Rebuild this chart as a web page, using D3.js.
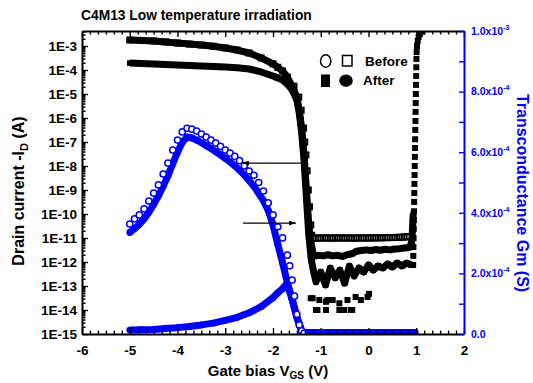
<!DOCTYPE html>
<html><head><meta charset="utf-8">
<script src="https://cdn.jsdelivr.net/npm/d3@7"></script>
<style>
body{margin:0;background:#fff}
text{font-family:"Liberation Sans",Arial,sans-serif;font-weight:bold}
</style>
</head><body>
<svg id="c" width="533" height="383"></svg>
<script>
// ---------- ticks ----------
const xTicks=[-6,-5,-4,-3,-2,-1,0,1,2];
const xTickLabels=["-6","-5","-4","-3","-2","-1","0","1","2"];
const yLeftTicks=[1e-15,1e-14,1e-13,1e-12,1e-11,1e-10,1e-9,1e-8,1e-7,1e-6,1e-5,1e-4,1e-3];
const yLeftTickLabels=["1E-15","1E-14","1E-13","1E-12","1E-11","1E-10","1E-9","1E-8","1E-7","1E-6","1E-5","1E-4","1E-3"];
const yRightTicks=[0,2e-4,4e-4,6e-4,8e-4,1e-3];
const yRightMant=["0.0","2.0","4.0","6.0","8.0","1.0"];
const yRightExp=["","-4","-4","-4","-4","-3"];

// ---------- drain current, after (filled squares), high branch ----------
const idHighV=[-5,-4.75,-4.5,-4.25,-4,-3.75,-3.5,-3.25,-3,-2.75,-2.5,-2.25,-2,-1.9,-1.8,-1.7,-1.6,-1.5,-1.45,-1.4,-1.35,-1.3,-1.25,-1.22,
 -1.15,-1.05,-0.95,-0.85,-0.75,-0.65,-0.55,-0.45,-0.35,-0.25,-0.15,-0.05,0.05,0.15,0.25,0.35,0.45,0.55,0.65,0.75,0.85,0.9,0.92,0.935];
const idHigh=[1.78e-3,1.70e-3,1.62e-3,1.48e-3,1.33e-3,1.20e-3,1.10e-3,9.8e-4,8.3e-4,6.8e-4,5.1e-4,3.2e-4,1.8e-4,1.3e-4,9.1e-5,5.1e-5,2.1e-5,7.4e-6,2.1e-6,3.8e-7,2.9e-8,1.0e-9,3.5e-11,1.0e-11,
 1.7e-12,1.9e-12,1.8e-12,2.0e-12,1.8e-12,1.9e-12,1.7e-12,2.0e-12,2.2e-12,2.8e-12,3.0e-12,3.2e-12,3.0e-12,3.3e-12,3.1e-12,3.4e-12,3.2e-12,3.5e-12,3.6e-12,3.8e-12,4.0e-12,6.0e-12,2.0e-11,1.0e-10];

// ---------- drain current, after (filled squares), low branch ----------
const idLowV=[-5,-4.75,-4.5,-4.25,-4,-3.75,-3.5,-3.25,-3,-2.75,-2.5,-2.25,-2,-1.9,-1.8,-1.7,-1.6,-1.5,-1.45,-1.4,-1.35,-1.3,-1.25,-1.2,-1.15,
 -1.1,-1.0,-0.9,-0.8,-0.7,-0.6,-0.5,-0.4,-0.3,-0.2,-0.1,0,0.1,0.2,0.3,0.4,0.5,0.6,0.7,0.8,0.9];
const idLow=[1.95e-4,1.86e-4,1.78e-4,1.70e-4,1.62e-4,1.55e-4,1.48e-4,1.41e-4,1.33e-4,1.23e-4,1.10e-4,8.3e-5,5.6e-5,4.7e-5,3.8e-5,2.6e-5,1.5e-5,5.6e-6,1.6e-6,2.6e-7,1.8e-8,4.7e-10,1.3e-11,1.3e-12,4.0e-13,
 1.5e-13,3.8e-13,1.1e-13,5.6e-13,2.2e-13,4.6e-13,1.3e-13,6.8e-13,2.6e-13,5.6e-13,3.8e-13,7.5e-13,4.6e-13,6.8e-13,5.6e-13,8.3e-13,6.2e-13,9.1e-13,6.8e-13,9.1e-13,7.5e-13];

// ---------- drain current, after, turn-on rise (filled squares) ----------
const riseV=[0.935,0.938,0.941,0.944,0.947,0.95,0.953,0.956,0.959,0.962,0.965,0.968,0.971,0.974,0.977,0.98,0.983,0.986,0.989,0.992,0.995,0.998,1.001,1.004,1.008,1.015,1.03,1.05,1.08,1.12,1.16];
const rise=[7.5e-13,1.8e-12,4.2e-12,1.0e-11,2.4e-11,5.6e-11,1.3e-10,3.2e-10,7.5e-10,1.8e-9,4.2e-9,1.0e-8,2.4e-8,5.6e-8,1.3e-7,3.2e-7,7.5e-7,1.8e-6,4.2e-6,1.0e-5,2.4e-5,5.6e-5,1.3e-4,2.9e-4,5.6e-4,1.0e-3,1.6e-3,2.4e-3,3.2e-3,4.0e-3,5.1e-3];

// ---------- drain current, after, off-state scatter (filled squares) ----------
const scatV=[-1.21,-1.17,-1.10,-1.07,-1.03,-0.89,-0.89,-0.86,-0.75,-0.61,-0.61,-0.51,-0.44,-0.37,-0.34,-0.27,-0.16,-0.02,0.01];
const scat=[3.1e-14,3.1e-14,1.0e-14,1.0e-14,2.6e-14,2.2e-14,1.0e-14,2.6e-14,2.6e-14,1.9e-14,1.0e-14,1.0e-14,2.6e-14,1.0e-14,1.0e-14,3.5e-14,2.6e-14,3.5e-14,4.7e-14];

// ---------- drain current, before (open squares) ----------
const idBeforeV=[-5,-4.75,-4.5,-4.25,-4,-3.75,-3.5,-3.25,-3,-2.75,-2.5,-2.25,-2,-1.9,-1.8,-1.7,-1.6,
 -1.56,-1.46,-1.41,-1.36,-1.335,-1.31,-1.285,-1.26,-1.235,-1.21,-1.19,-1.17,
 -1.15,-1.1,-1.05,-1.0,-0.95,-0.9,-0.85,-0.8,-0.75,-0.7,-0.65,-0.6,-0.55,-0.5,-0.45,-0.4,-0.35,-0.3,-0.25,-0.2,-0.15,-0.1,-0.05,0,
 0.05,0.1,0.15,0.2,0.25,0.3,0.35,0.4,0.45,0.5,0.55,0.6,0.65,0.7,0.75,0.8,0.85];
const idBefore=[1.78e-3,1.70e-3,1.62e-3,1.48e-3,1.33e-3,1.20e-3,1.10e-3,9.8e-4,8.3e-4,6.8e-4,5.1e-4,3.2e-4,1.8e-4,1.3e-4,9.1e-5,5.1e-5,2.1e-5,
 2.1e-5,7.4e-6,2.1e-6,3.8e-7,1.0e-7,2.9e-8,6.3e-9,1.0e-9,2.0e-10,3.5e-11,1.3e-11,1.0e-11,
 1.0e-11,9.8e-12,1.01e-11,9.9e-12,1.0e-11,1.02e-11,9.8e-12,1.0e-11,9.9e-12,1.01e-11,1.0e-11,9.9e-12,1.02e-11,1.0e-11,9.9e-12,1.01e-11,1.0e-11,9.8e-12,1.0e-11,1.01e-11,9.9e-12,1.0e-11,1.02e-11,1.0e-11,
 1.01e-11,1.0e-11,1.02e-11,1.01e-11,1.03e-11,1.02e-11,1.04e-11,1.03e-11,1.05e-11,1.04e-11,1.06e-11,1.05e-11,1.07e-11,1.08e-11,1.1e-11,1.12e-11,1.15e-11];

// ---------- transconductance, before (open circles) ----------
const gmBeforeV=[-5,-4.9,-4.8,-4.7,-4.6,-4.5,-4.4,-4.3,-4.2,-4.1,-4.0,-3.9,-3.8,-3.7,-3.6,-3.5,-3.4,-3.3,-3.2,-3.1,-3.0,-2.9,-2.8,-2.7,-2.6,-2.5,-2.4,-2.3,-2.2,-2.1,-2.0,-1.9,-1.8,-1.7,-1.65,-1.6,-1.55,-1.5,-1.45,-1.4,-1.35];
const gmBefore=[3.63e-4,3.80e-4,3.93e-4,4.13e-4,4.39e-4,4.65e-4,4.92e-4,5.28e-4,5.64e-4,6.07e-4,6.40e-4,6.67e-4,6.79e-4,6.76e-4,6.70e-4,6.60e-4,6.50e-4,6.40e-4,6.30e-4,6.19e-4,6.07e-4,5.97e-4,5.86e-4,5.72e-4,5.55e-4,5.38e-4,5.24e-4,5.00e-4,4.72e-4,4.33e-4,3.93e-4,3.54e-4,3.17e-4,2.60e-4,2.25e-4,1.78e-4,1.25e-4,0.65e-4,0.30e-4,0.10e-4,0.02e-4];

// ---------- transconductance, after (filled circles), main branch ----------
const gmAfterAV=[-5,-4.9,-4.8,-4.7,-4.6,-4.5,-4.4,-4.3,-4.2,-4.1,-4.0,-3.9,-3.8,-3.7,-3.6,-3.4,-3.2,-3.0,-2.8,-2.6,-2.4,-2.2,-2.1,-2.0,-1.9,-1.8,-1.7,-1.6,-1.5,-1.45,-1.4,-1.36];
const gmAfterA=[3.35e-4,3.48e-4,3.62e-4,3.80e-4,4.02e-4,4.28e-4,4.56e-4,4.88e-4,5.22e-4,5.62e-4,6.00e-4,6.33e-4,6.50e-4,6.47e-4,6.40e-4,6.22e-4,6.02e-4,5.80e-4,5.55e-4,5.25e-4,4.88e-4,4.40e-4,4.08e-4,3.60e-4,2.96e-4,2.35e-4,1.70e-4,1.15e-4,0.55e-4,0.33e-4,0.10e-4,0.05e-4];

// ---------- transconductance, after (filled circles), low branch ----------
const gmAfterBV=[-5,-4.75,-4.5,-4.25,-4,-3.75,-3.5,-3.25,-3,-2.75,-2.5,-2.25,-2,-1.9,-1.8,-1.72,-1.65,-1.6,-1.5,-1.45,-1.4,-1.35,-1.3,-1.2,-1.1,-1.0,-0.9,-0.8,-0.7,-0.6,-0.5,-0.4,-0.3,-0.2,-0.1,0,0.1,0.2,0.3,0.4,0.5,0.6,0.7,0.8,0.9,0.98];
const gmAfterB=[0.13e-4,0.14e-4,0.15e-4,0.18e-4,0.21e-4,0.25e-4,0.30e-4,0.36e-4,0.45e-4,0.55e-4,0.70e-4,0.90e-4,1.20e-4,1.36e-4,1.50e-4,1.64e-4,1.40e-4,1.15e-4,0.55e-4,0.33e-4,0.10e-4,0.05e-4,
 0.05e-4,0.05e-4,0.05e-4,0.05e-4,0.05e-4,0.05e-4,0.05e-4,0.05e-4,0.05e-4,0.05e-4,0.05e-4,0.05e-4,0.05e-4,0.05e-4,0.05e-4,0.05e-4,0.05e-4,0.05e-4,0.05e-4,0.05e-4,0.05e-4,0.05e-4,0.05e-4,0.05e-4];

// ---------- annotation arrows (data units) ----------
const arrowFromV=[-1.37,-2.63];
const arrowToV=[-2.65,-1.52];
const arrowLevel=[1.33e-8,4.2e-11];

// ===================================================
const zip=(a,b)=>a.map((v,i)=>[v,b[i]]);
const svg=d3.select("#c");
const L=82,R=464,T=31,B=334;
const x=d3.scaleLinear().domain([-6,2]).range([L,R]);
const yL=d3.scaleLog().domain([1e-15,Math.pow(10,-2.375)]).range([B,T]);
const yR=d3.scaleLinear().domain([0,1e-3]).range([B,T]);
const BLUE="#0000ff";

const defs=svg.append("defs");
defs.append("clipPath").attr("id","clip").append("rect").attr("x",L).attr("y",T).attr("width",R-L).attr("height",B-T);
defs.append("marker").attr("id","ah").attr("viewBox","0 0 10 7").attr("refX",10).attr("refY",3.5)
  .attr("markerWidth",7).attr("markerHeight",5).attr("markerUnits","userSpaceOnUse").attr("orient","auto")
  .append("path").attr("d","M0,0L10,3.5L0,7Z").attr("fill","#000");

const plot=svg.append("g").attr("clip-path","url(#clip)");

function band(data,ys,color,w){
  plot.append("path").datum(data)
   .attr("d",d3.line().x(d=>x(d[0])).y(d=>ys(d[1])))
   .attr("fill","none").attr("stroke",color).attr("stroke-width",w).attr("stroke-linejoin","round");
}
function squares(data,size,fill,stroke,sw){
  plot.append("g").selectAll("rect").data(data).join("rect")
   .attr("x",d=>x(d[0])-size/2).attr("y",d=>yL(d[1])-size/2)
   .attr("width",size).attr("height",size)
   .attr("fill",fill).attr("stroke",stroke).attr("stroke-width",sw);
}
function circles(data,r,fill,stroke,sw){
  plot.append("g").selectAll("circle").data(data).join("circle")
   .attr("cx",d=>x(d[0])).attr("cy",d=>yR(d[1])).attr("r",r)
   .attr("fill",fill).attr("stroke",stroke).attr("stroke-width",sw);
}

// drain current
const dBefore=zip(idBeforeV,idBefore);
squares(dBefore,5,"#fff","#000",2);
const dHigh=zip(idHighV,idHigh), dLow=zip(idLowV,idLow);
band(dHigh,yL,"#000",7); squares(dHigh,5.6,"#000","none",0);
band(dLow,yL,"#000",7); squares(dLow,5.6,"#000","none",0);
squares(zip(riseV,rise),6,"#000","none",0);
squares(zip(scatV,scat),6,"#000","none",0);

// transconductance
const gA=zip(gmAfterAV,gmAfterA), gB=zip(gmAfterBV,gmAfterB);
band(gA,yR,BLUE,7); circles(gA,3.4,BLUE,"none",0);
band(gB,yR,BLUE,7); circles(gB,3.4,BLUE,"none",0);
circles(zip(gmBeforeV,gmBefore),3.1,"#fff",BLUE,1.5);

// ---------- axes ----------
const xMinor=[]; for(let i=-6;i<2;i++) for(let j=1;j<=5;j++) xMinor.push(i+j/6);
const yMinor=[]; for(let k=-15;k<=-3;k++) for(let m=2;m<=9;m++){const v=m*Math.pow(10,k); if(v<yL.domain()[1]) yMinor.push(v);}
const yRMinor=[1e-4,3e-4,5e-4,7e-4,9e-4];

function style(g,color,fs){
  g.select(".domain").attr("stroke",color).attr("stroke-width",2);
  g.selectAll(".tick line").attr("stroke",color).attr("stroke-width",1.4);
  g.selectAll("text").attr("fill",color).attr("font-size",fs).attr("font-family","'Liberation Sans',Arial,sans-serif").attr("font-weight","bold");
}
const gx=svg.append("g").attr("transform",`translate(0,${B})`)
  .call(d3.axisBottom(x).tickValues(xTicks).tickFormat((d,i)=>xTickLabels[i]).tickSizeInner(-6).tickSizeOuter(0).tickPadding(11));
style(gx,"#000",13.5);
svg.append("g").attr("transform",`translate(0,${B})`).call(d3.axisBottom(x).tickValues(xMinor).tickFormat("").tickSizeInner(-3.5).tickSizeOuter(0)).call(g=>{g.select(".domain").remove();style(g,"#000",0);});
const gt=svg.append("g").attr("transform",`translate(0,${T})`)
  .call(d3.axisTop(x).tickValues(xTicks).tickFormat("").tickSizeInner(-6).tickSizeOuter(0));
style(gt,"#000",0);
svg.append("g").attr("transform",`translate(0,${T})`).call(d3.axisTop(x).tickValues(xMinor).tickFormat("").tickSizeInner(-3.5).tickSizeOuter(0)).call(g=>{g.select(".domain").remove();style(g,"#000",0);});

const gy=svg.append("g").attr("transform",`translate(${L},0)`)
  .call(d3.axisLeft(yL).tickValues(yLeftTicks).tickFormat((d,i)=>yLeftTickLabels[i]).tickSizeInner(-6).tickSizeOuter(0).tickPadding(5));
style(gy,"#000",13.5);
svg.append("g").attr("transform",`translate(${L},0)`).call(d3.axisLeft(yL).tickValues(yMinor).tickFormat("").tickSizeInner(-3.5).tickSizeOuter(0)).call(g=>{g.select(".domain").remove();style(g,"#000",0);});

const gr=svg.append("g").attr("transform",`translate(${R},0)`)
  .call(d3.axisRight(yR).tickValues(yRightTicks).tickFormat("").tickSizeInner(-5).tickSizeOuter(0));
style(gr,BLUE,0);
svg.append("g").attr("transform",`translate(${R},0)`).call(d3.axisRight(yR).tickValues(yRMinor).tickFormat("").tickSizeInner(-5).tickSizeOuter(0)).call(g=>{g.select(".domain").remove();style(g,BLUE,0);});
yRightTicks.forEach((v,i)=>{
  const t=svg.append("text").attr("x",R+7).attr("y",yR(v)).attr("dy","0.36em").attr("fill",BLUE).attr("font-size",10.5);
  t.append("tspan").text(yRightMant[i]+(yRightExp[i]?"x10":""));
  if(yRightExp[i]) t.append("tspan").attr("font-size",7).attr("dy",-5).text(yRightExp[i]);
});

// ---------- arrows ----------
arrowFromV.forEach((v,i)=>{
  svg.append("line").attr("x1",x(v)).attr("x2",x(arrowToV[i])).attr("y1",yL(arrowLevel[i])).attr("y2",yL(arrowLevel[i]))
    .attr("stroke","#000").attr("stroke-width",1.2).attr("marker-end","url(#ah)");
});

// ---------- titles ----------
svg.append("text").attr("x",81).attr("y",20).attr("font-size",13.8).text("C4M13 Low temperature irradiation");
const xl=svg.append("text").attr("x",268).attr("y",376).attr("text-anchor","middle").attr("font-size",15);
xl.append("tspan").text("Gate bias V");
xl.append("tspan").attr("font-size",10).attr("dy",3).text("GS");
xl.append("tspan").attr("dy",-3).text(" (V)");
const yl=svg.append("text").attr("transform","translate(24,191) rotate(-90)").attr("text-anchor","middle").attr("font-size",16);
yl.append("tspan").text("Drain current -I");
yl.append("tspan").attr("font-size",11).attr("dy",4).text("D");
yl.append("tspan").attr("dy",-4).text(" (A)");
svg.append("text").attr("transform","translate(517,193) rotate(90)").attr("text-anchor","middle").attr("font-size",16).attr("fill",BLUE).text("Transconductance Gm (S)");

// ---------- legend ----------
const lg=svg.append("g");
lg.append("ellipse").attr("cx",325.7).attr("cy",61).attr("rx",5.2).attr("ry",6.2).attr("fill","#fff").attr("stroke","#000").attr("stroke-width",1.5);
lg.append("rect").attr("x",342.5).attr("y",55.5).attr("width",9.5).attr("height",10.5).attr("fill","#fff").attr("stroke","#000").attr("stroke-width",1.5);
lg.append("text").attr("x",365).attr("y",66).attr("font-size",13.5).text("Before");
lg.append("rect").attr("x",321).attr("y",74.5).attr("width",9).attr("height",12.5).attr("fill","#000");
lg.append("ellipse").attr("cx",346).attr("cy",80.7).attr("rx",6.8).attr("ry",6.2).attr("fill","#000");
lg.append("text").attr("x",363).attr("y",85).attr("font-size",13.5).text("After");
</script>
</body></html>
